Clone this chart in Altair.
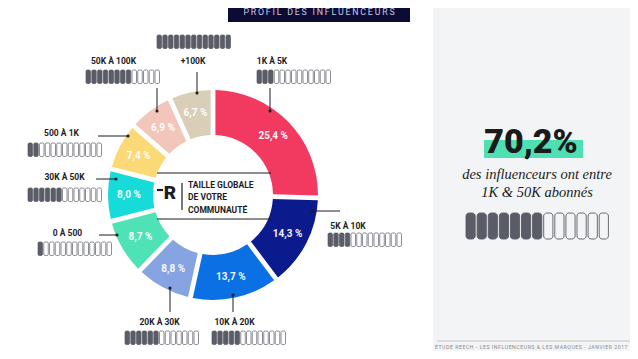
import altair as alt
import pandas as pd

# ---------------- data ----------------
categories = ["1K À 5K", "5K À 10K", "10K À 20K", "20K À 30K", "0 À 500",
              "30K À 50K", "500 À 1K", "50K À 100K", "+100K"]
shares = [25.4, 14.3, 13.7, 8.8, 8.7, 8.0, 7.4, 6.9, 6.7]
share_labels = ["25,4 %", "14,3 %", "13,7 %", "8,8 %", "8,7 %", "8,0 %", "7,4 %", "6,9 %", "6,7 %"]
colors = ["#F23A60", "#0B1A8C", "#0A70E4", "#86A4E2", "#4EE2B6",
          "#16DBD8", "#FCD977", "#F3C6BC", "#D9CFB8"]
icons_filled = [3, 4, 5, 6, 1, 6, 2, 8, 13]
icons_total = 13
headline = "70,2%"
headline_text = ["des influenceurs ont entre", "1K & 50K abonnés"]
headline_filled = 7
title = "PROFIL DES INFLUENCEURS"
center_text = ["TAILLE GLOBALE", "DE VOTRE", "COMMUNAUTÉ"]
footer = "ÉTUDE REECH - LES INFLUENCEURS & LES MARQUES - JANVIER 2017"


def spaced(s, sep):
    return sep.join(list(s))


# ---------------- layout (pixel positions in the 638x359 page) ----------------
CX, CY = 213, 195
label_pos = [(272, 61), (348, 226), (234.5, 322), (159.5, 322), (67.5, 233),
             (64.5, 177), (61.5, 133), (113.5, 61), (193, 61)]
icon_pos = [(257, 70), (328, 233), (212, 331), (125, 331), (38, 242),
            (28, 188), (28, 143), (86, 70), (157, 35)]
leader_pos = [(270, 88, 270, 111), (340, 211, 312, 211), (233, 312, 233, 295),
              (170, 312, 170, 288), (99, 235, 117, 235), (96, 179, 116, 179),
              (98, 136, 128, 136), (157, 88, 157, 111), (197, 72, 197, 93)]

W, H = 622, 343
xs = alt.Scale(domain=[8, 8 + W], nice=False, zero=False)
ys = alt.Scale(domain=[8, 8 + H], nice=False, zero=False, reverse=True)


def X(f="x"):
    return alt.X(f"{f}:Q", scale=xs, axis=None)


def Y(f="y"):
    return alt.Y(f"{f}:Q", scale=ys, axis=None)


FONT = "Roboto"
DARK = "#1c1c24"
ICON = "#5a5c67"

# ---------- background pieces ----------
panel = alt.Chart(pd.DataFrame({"x": [433], "x2": [8 + W], "y": [8], "y2": [8 + H]})).mark_rect(
    color="#F3F4F6").encode(x=X(), x2="x2:Q", y=Y(), y2="y2:Q")
title_box = alt.Chart(pd.DataFrame({"x": [228], "x2": [410], "y": [8], "y2": [22]})).mark_rect(
    color="#0B0B33").encode(x=X(), x2="x2:Q", y=Y(), y2="y2:Q")
title_txt = alt.Chart(pd.DataFrame({"x": [319], "y": [12], "t": [spaced(title, "\u2009")]})).mark_text(
    font=FONT, fontSize=8.8, color="#C9CCE2", baseline="middle").encode(
    x=X(), y=Y(), text="t:N")

# ---------- donut ----------
donut_df = pd.DataFrame({"cat": categories, "share": shares, "lab": share_labels,
                         "ord": list(range(len(categories)))})
arc = alt.Chart(donut_df).mark_arc(innerRadius=60, outerRadius=105, padAngle=0.04).encode(
    theta=alt.Theta("share:Q", stack=True),
    order=alt.Order("ord:Q"),
    color=alt.Color("cat:N", scale=alt.Scale(domain=categories, range=colors), legend=None),
    x=alt.value(CX - 8), y=alt.value(CY - 8))
arc_txt = alt.Chart(donut_df).mark_text(radius=84, font=FONT, fontWeight="bold", fontSize=10,
                                        color="white", opacity=0.95).encode(
    theta=alt.Theta("share:Q", stack=True),
    order=alt.Order("ord:Q"),
    text="lab:N",
    x=alt.value(CX - 8), y=alt.value(CY - 8))

# ---------- center block ----------
center_lines = alt.Chart(pd.DataFrame({"x": [157, 157], "x2": [271, 271], "y": [173, 219]})).mark_rule(
    color=DARK, strokeWidth=1).encode(x=X(), x2="x2:Q", y=Y())
center_bar = alt.Chart(pd.DataFrame({"x": [182], "y": [183], "y2": [210]})).mark_rule(
    color=DARK, strokeWidth=1.2).encode(x=X(), y=Y(), y2="y2:Q")
logo = alt.Chart(pd.DataFrame({"x": [170], "y": [193], "t": ["R"]})).mark_text(
    font=FONT, fontWeight=900, fontSize=19, color=DARK, baseline="middle").encode(
    x=X(), y=Y(), text="t:N")
logo_dash = alt.Chart(pd.DataFrame({"x": [157], "x2": [163], "y": [190]})).mark_rule(
    color=DARK, strokeWidth=2.2).encode(x=X(), x2="x2:Q", y=Y())
center_df = pd.DataFrame({"x": [188] * 3, "y": [184.5, 197, 209.5], "t": center_text})
center_txt = alt.Chart(center_df).mark_text(
    font=FONT, fontWeight="bold", fontSize=8.5, color=DARK,
    align="left", baseline="middle").encode(x=X(), y=Y(), text="t:N")

# ---------- labels, leaders, icons ----------
lab_df = pd.DataFrame({"x": [p[0] for p in label_pos], "y": [p[1] for p in label_pos],
                       "t": categories})
labels = alt.Chart(lab_df).mark_text(
    font=FONT, fontWeight="bold", fontSize=8.5, color=DARK,
    baseline="middle").encode(x=X(), y=Y(), text="t:N")

lead_df = pd.DataFrame({"x": [p[0] for p in leader_pos], "y": [p[1] for p in leader_pos],
                        "x2": [p[2] for p in leader_pos], "y2": [p[3] for p in leader_pos]})
leaders = alt.Chart(lead_df).mark_rule(color=DARK, strokeWidth=1).encode(
    x=X(), y=Y(), x2="x2:Q", y2="y2:Q")
dots = alt.Chart(lead_df).mark_circle(color=DARK, size=10, opacity=1).encode(
    x=X("x2"), y=Y("y2"))

rows = []
for (x0, y0), n in zip(icon_pos, icons_filled):
    for i in range(icons_total):
        rows.append({"x": x0 + i * 5.75, "x2": x0 + i * 5.75 + 4.5,
                     "y": y0, "y2": y0 + 13.5, "filled": i < n})
icons = alt.Chart(pd.DataFrame(rows)).mark_rect(
    cornerRadius=1.3, stroke=ICON, strokeWidth=0.7).encode(
    x=X(), x2="x2:Q", y=Y(), y2="y2:Q",
    fill=alt.condition(alt.datum.filled, alt.value(ICON), alt.value("white")))

# ---------- right panel ----------
hl_rect = alt.Chart(pd.DataFrame({"x": [484], "x2": [583], "y": [140], "y2": [158]})).mark_rect(
    color="#4EE0B3").encode(x=X(), x2="x2:Q", y=Y(), y2="y2:Q")
hl_txt = alt.Chart(pd.DataFrame({"x": [531], "y": [152.5], "t": [headline]})).mark_text(
    font=FONT, fontWeight=900, fontSize=34, color="#1a1a1a", baseline="alphabetic").encode(
    x=X(), y=Y(), text="t:N")
sub_df = pd.DataFrame({"x": [537, 537], "y": [175, 193], "t": headline_text})
sub_txt = alt.Chart(sub_df).mark_text(
    font="Liberation Serif", fontStyle="italic", fontSize=14.5, color="#222222",
    baseline="middle").encode(x=X(), y=Y(), text="t:N")
prow = []
for i in range(icons_total):
    prow.append({"x": 466 + i * 11.1, "x2": 466 + i * 11.1 + 9.2, "y": 213, "y2": 239,
                 "filled": i < headline_filled})
p_icons = alt.Chart(pd.DataFrame(prow)).mark_rect(
    cornerRadius=3, stroke=ICON, strokeWidth=0.9).encode(
    x=X(), x2="x2:Q", y=Y(), y2="y2:Q",
    fill=alt.condition(alt.datum.filled, alt.value(ICON), alt.value("#F3F4F6")))

foot_line = alt.Chart(pd.DataFrame({"x": [437], "x2": [630], "y": [341]})).mark_rule(
    color="#B8B8B8", strokeWidth=0.8).encode(x=X(), x2="x2:Q", y=Y())
foot_txt = alt.Chart(pd.DataFrame({"x": [435], "y": [346.5], "t": [spaced(footer, "\u200a")]})).mark_text(
    font=FONT, fontSize=5.2, color="#8A8A8A", align="left",
    baseline="middle").encode(x=X(), y=Y(), text="t:N")

chart = alt.layer(
    panel, title_box, title_txt, arc, arc_txt, center_lines, center_bar, logo, logo_dash,
    center_txt, leaders, dots, labels, icons, hl_rect, hl_txt, sub_txt, p_icons,
    foot_line, foot_txt
).properties(width=W, height=H, padding=0, autosize="none", background="white"
).configure_view(stroke=None)

chart.save("out.html", embed_options={"renderer": "svg", "actions": False})
